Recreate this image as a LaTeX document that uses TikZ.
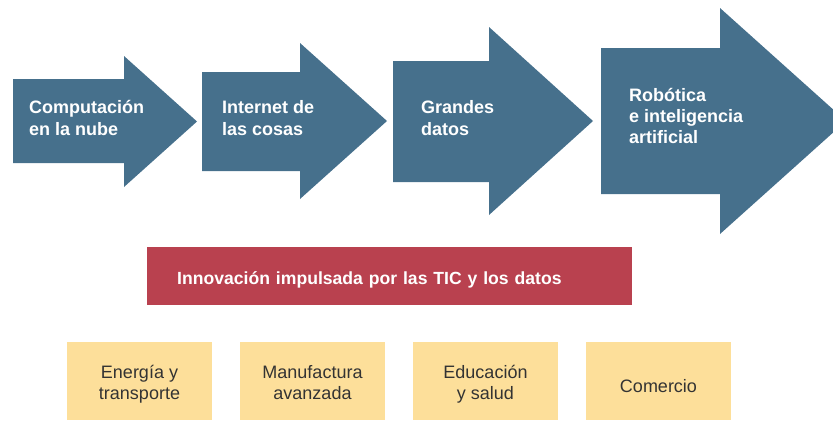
\documentclass[tikz,border=0pt]{standalone}
\usepackage{fontspec}
\setmainfont{Liberation Sans}
\definecolor{arrowblue}{HTML}{46708C}
\definecolor{barred}{HTML}{B9414F}
\definecolor{boxyellow}{HTML}{FDDF9A}
\definecolor{boxtext}{HTML}{333333}
\tikzset{
  bigarrow/.style={fill=arrowblue, draw=none},
  arrowtext/.style={anchor=base west, inner sep=0pt, text=white, align=left, font=\fontsize{18}{22}\selectfont\bfseries},
  sectorbox/.style={fill=boxyellow, draw=none, minimum width=145pt, minimum height=78pt, inner sep=0pt, align=center, text=boxtext, font=\fontsize{18}{21}\selectfont, text height=38pt, text depth=2pt},
}
\begin{document}
\begin{tikzpicture}[x=1pt,y=1pt]
\useasboundingbox (0,0) rectangle (833,-421);
% arrows
\path[bigarrow] (13,-79) -- (124,-79) -- (124,-56) -- (197,-121.5) -- (124,-187) -- (124,-163) -- (13,-163) -- cycle;
\path[bigarrow] (202,-72) -- (300,-72) -- (300,-43) -- (387,-121) -- (300,-199) -- (300,-171) -- (202,-171) -- cycle;
\path[bigarrow] (393,-61) -- (489,-61) -- (489,-27) -- (593,-121) -- (489,-215) -- (489,-182) -- (393,-182) -- cycle;
\path[bigarrow] (601,-48) -- (720,-48) -- (720,-8) -- (846,-121) -- (720,-234) -- (720,-194) -- (601,-194) -- cycle;
\node[arrowtext] (t1) at (29,-135) {Computación\\en la nube};
\node[arrowtext] (t2) at (222,-135) {Internet de\\las cosas};
\node[arrowtext] (t3) at (421,-135) {Grandes\\datos};
\node[arrowtext, font=\fontsize{18}{21}\selectfont\bfseries] (t4) at (629,-143) {Robótica\\e inteligencia\\artificial};
% red bar
\node[fill=barred, draw=none, anchor=north west, minimum width=485pt, minimum height=58pt, inner ysep=0pt, inner xsep=30pt, text width=425pt, align=left, text=white, font=\fontsize{17.6}{22}\selectfont\bfseries, text height=18pt, text depth=2pt] (bar) at (147,-247) {Innovación impulsada por las TIC y los datos};
% sector boxes
\node[sectorbox] (s1) at (139.5,-381) {Energía y\\transporte};
\node[sectorbox] (s2) at (312.5,-381) {Manufactura\\avanzada};
\node[sectorbox] (s3) at (485.5,-381) {Educación\\y salud};
\node[sectorbox, text height=24pt] (s4) at (658.5,-381) {Comercio};
\end{tikzpicture}
\end{document}
